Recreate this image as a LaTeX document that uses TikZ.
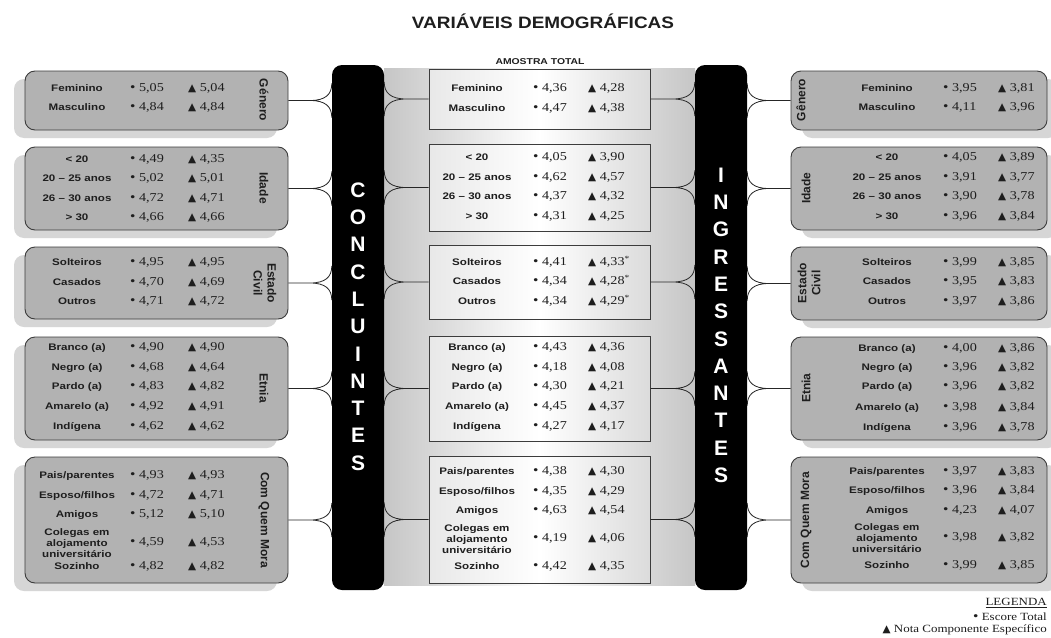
\documentclass[tikz,border=0pt]{standalone}
\usepackage{fontspec}
\setmainfont{Liberation Serif}
\newfontfamily\labfont{Liberation Sans}[FakeStretch=1.22]
\newfontfamily\numfont{Liberation Serif}[FakeStretch=1.18]
\newfontfamily\rotfont{Liberation Sans}
\newfontfamily\titfont{Liberation Sans}[FakeStretch=1.15]
\newfontfamily\symfont{DejaVu Sans}
\usetikzlibrary{calc,shadows}
\definecolor{boxgray}{RGB}{178,178,178}
\definecolor{shgray}{RGB}{214,214,214}
\definecolor{bord}{RGB}{60,60,60}
\definecolor{txt}{RGB}{30,30,30}
\newcommand\tri{{\symfont\fontsize{10.5}{10.5}\selectfont ▲}}
\newcommand\bul{{\fontsize{13}{13}\selectfont\textbullet}}
\tikzset{
  conn/.style={draw=black!85, line width=0.8pt},
  lab/.style={font=\labfont\bfseries\fontsize{9.5}{11}\selectfont, text=txt, inner sep=0, text height=7pt, text depth=2pt},
  labthree/.style={font=\labfont\bfseries\fontsize{9.5}{11}\selectfont, text=txt, inner sep=0, align=center},
  num/.style={font=\numfont\fontsize{12}{12}\selectfont, text=txt, inner sep=0, anchor=west, text height=7pt, text depth=2pt},
  rotlab/.style={font=\rotfont\bfseries\fontsize{12}{14}\selectfont, text=txt, inner sep=0, align=center},
  sideL/.style={draw=bord, line width=0.9pt, fill=boxgray, rounded corners=10pt, minimum width=263pt, inner sep=0,
    drop shadow={shadow xshift=-11pt, shadow yshift=-8pt, fill=shgray, opacity=1}},
  sideR/.style={draw=bord, line width=0.9pt, fill=boxgray, rounded corners=10pt, minimum width=256pt, inner sep=0,
    drop shadow={shadow xshift=11pt, shadow yshift=-8pt, fill=shgray, opacity=1}},
  midbox/.style={draw=bord, line width=1pt, left color=gray!18, right color=gray!28, middle color=white, minimum width=221pt, inner sep=0},
  bar/.style={fill=black, rounded corners=10pt, minimum width=52pt, minimum height=525pt, inner sep=0},
  barlet/.style={text=white, font=\rotfont\bfseries\fontsize{21}{21}\selectfont, inner sep=0},
  legend/.style={font=\numfont\fontsize{11}{12}\selectfont, text=txt, inner sep=0, anchor=east}
}
% generic row: x-label, x-a, x-b, name, y, label, a, b
\newcommand\ent[8]{%
  \node[lab] (#4l) at (#1,#5) {#6};
  \node[num] (#4a) at (#2,#5) {\bul\ #7};
  \node[num] (#4b) at (#3,#5) {\tri\ #8};
}
\newcommand\entL[5]{\ent{77}{130}{188}{#1}{#2}{#3}{#4}{#5}}
\newcommand\entC[5]{\ent{477}{533}{588}{#1}{#2}{#3}{#4}{#5}}
\newcommand\entR[5]{\ent{887}{943}{998}{#1}{#2}{#3}{#4}{#5}}
% three-line entry
\newcommand\entT[7]{%
  \node[labthree] (#4l) at (#1,#5) {Colegas em\\alojamento\\universitário};
  \node[num] (#4a) at (#2,#5) {\bul\ #6};
  \node[num] (#4b) at (#3,#5) {\tri\ #7};
}
% brace connector: box anchor, bar anchor
\newcommand\brc[2]{%
  \path (#1) coordinate (bs) (#2|-#1) coordinate (be);
  \path ($(bs)!0.5!(be)$) coordinate (bj);
  \draw[conn] (bs) -- (bj)
     .. controls ($(bj)!0.7!(be)$) and ($(be)+(0,-6)$) .. ($(be)+(0,-17)$)
     (bj) .. controls ($(bj)!0.7!(be)$) and ($(be)+(0,6)$) .. ($(be)+(0,17)$);
}
\begin{document}
\begin{tikzpicture}[x=1pt,y=-1pt]
\useasboundingbox (0,0) rectangle (1051,637);
\fill[white] (0,0) rectangle (1051,637);

% title
\node[font=\titfont\bfseries\fontsize{16.5}{18}\selectfont, text=txt, inner sep=0] (title) at (543,21) {VARIÁVEIS DEMOGRÁFICAS};

% central gradient
\shade[left color=gray!45, right color=gray!45, middle color=white] (384,68) rectangle (695,585);

\node[font=\labfont\bfseries\fontsize{8.5}{9}\selectfont, text=txt, inner sep=0] (amostra) at (540,62) {AMOSTRA TOTAL};

% center boxes
\node[midbox, minimum height=60pt]  (Cg) at (539.5,99) {};
\node[midbox, minimum height=87pt]  (Ci) at (539.5,187.5) {};
\node[midbox, minimum height=74pt]  (Ce) at (539.5,282) {};
\node[midbox, minimum height=105pt] (Ct) at (539.5,388.5) {};
\node[midbox, minimum height=127pt] (Cc) at (539.5,519.5) {};

% left boxes
\node[sideL, minimum height=59pt]  (Lg) at (156.5,100.5) {};
\node[sideL, minimum height=83pt]  (Li) at (156.5,188.5) {};
\node[sideL, minimum height=72pt]  (Le) at (156.5,283) {};
\node[sideL, minimum height=103pt] (Lt) at (156.5,388.5) {};
\node[sideL, minimum height=126pt] (Lc) at (156.5,520) {};

% right boxes
\node[sideR, minimum height=59pt]  (Rg) at (919,100.5) {};
\node[sideR, minimum height=83pt]  (Ri) at (919,188.5) {};
\node[sideR, minimum height=73pt]  (Re) at (919,283.5) {};
\node[sideR, minimum height=103pt] (Rt) at (919,388.5) {};
\node[sideR, minimum height=126pt] (Rc) at (919,520) {};

% bars
\node[bar] (barL) at (358,327.5) {};
\node[bar] (barR) at (721,327.5) {};
\foreach \ch [count=\i] in {C,O,N,C,L,U,I,N,T,E,S}
  \node[barlet] (cl\i) at (358,{190+27.3*(\i-1)}) {\ch};
\foreach \ch [count=\i] in {I,N,G,R,E,S,S,A,N,T,E,S}
  \node[barlet] (in\i) at (721,{175+27.3*(\i-1)}) {\ch};

% connectors
\foreach \b in {g,i,e,t,c}{
  \brc{L\b.east}{barL.west}
  \brc{C\b.west}{barL.east}
  \brc{C\b.east}{barR.west}
  \brc{R\b.west}{barR.east}
}

% rotated category labels
\node[rotlab, rotate=-90] (lgl) at (264,100) {Género};
\node[rotlab, rotate=-90] (lil) at (264,188) {Idade};
\node[rotlab, rotate=-90] (lel) at (265,283) {Estado\\Civil};
\node[rotlab, rotate=-90] (ltl) at (264,388) {Etnia};
\node[rotlab, rotate=-90] (lcl) at (264,520) {Com Quem Mora};
\node[rotlab, rotate=90] (rgl) at (801,100) {Gênero};
\node[rotlab, rotate=90] (ril) at (806,188) {Idade};
\node[rotlab, rotate=90] (rel) at (809,283) {Estado\\Civil};
\node[rotlab, rotate=90] (rtl) at (806,388) {Etnia};
\node[rotlab, rotate=90] (rcl) at (806,520) {Com Quem Mora};

% left entries
\entL{L1}{89}{Feminino}{5,05}{5,04}
\entL{L2}{108}{Masculino}{4,84}{4,84}
\entL{L3}{160}{< 20}{4,49}{4,35}
\entL{L4}{179}{20 – 25 anos}{5,02}{5,01}
\entL{L5}{199}{26 – 30 anos}{4,72}{4,71}
\entL{L6}{218}{> 30}{4,66}{4,66}
\entL{L7}{263}{Solteiros}{4,95}{4,95}
\entL{L8}{283}{Casados}{4,70}{4,69}
\entL{L9}{302}{Outros}{4,71}{4,72}
\entL{L10}{348}{Branco (a)}{4,90}{4,90}
\entL{L11}{368}{Negro (a)}{4,68}{4,64}
\entL{L12}{387}{Pardo (a)}{4,83}{4,82}
\entL{L13}{407}{Amarelo (a)}{4,92}{4,91}
\entL{L14}{427}{Indígena}{4,62}{4,62}
\entL{L15}{476}{Pais/parentes}{4,93}{4,93}
\entL{L16}{496}{Esposo/filhos}{4,72}{4,71}
\entL{L17}{515}{Amigos}{5,12}{5,10}
\entT{77}{130}{188}{L18}{543}{4,59}{4,53}
\entL{L19}{567}{Sozinho}{4,82}{4,82}

% center entries
\entC{C1}{89}{Feminino}{4,36}{4,28}
\entC{C2}{109}{Masculino}{4,47}{4,38}
\entC{C3}{158}{< 20}{4,05}{3,90}
\entC{C4}{178}{20 – 25 anos}{4,62}{4,57}
\entC{C5}{197}{26 – 30 anos}{4,37}{4,32}
\entC{C6}{217}{> 30}{4,31}{4,25}
\entC{C7}{263}{Solteiros}{4,41}{4,33\textsuperscript{*}}
\entC{C8}{282}{Casados}{4,34}{4,28\textsuperscript{*}}
\entC{C9}{302}{Outros}{4,34}{4,29\textsuperscript{*}}
\entC{C10}{348}{Branco (a)}{4,43}{4,36}
\entC{C11}{368}{Negro (a)}{4,18}{4,08}
\entC{C12}{387}{Pardo (a)}{4,30}{4,21}
\entC{C13}{407}{Amarelo (a)}{4,45}{4,37}
\entC{C14}{427}{Indígena}{4,27}{4,17}
\entC{C15}{472}{Pais/parentes}{4,38}{4,30}
\entC{C16}{492}{Esposo/filhos}{4,35}{4,29}
\entC{C17}{511}{Amigos}{4,63}{4,54}
\entT{477}{533}{588}{C18}{539}{4,19}{4,06}
\entC{C19}{567}{Sozinho}{4,42}{4,35}

% right entries
\entR{R1}{89}{Feminino}{3,95}{3,81}
\entR{R2}{108}{Masculino}{4,11}{3,96}
\entR{R3}{158}{< 20}{4,05}{3,89}
\entR{R4}{178}{20 – 25 anos}{3,91}{3,77}
\entR{R5}{197}{26 – 30 anos}{3,90}{3,78}
\entR{R6}{217}{> 30}{3,96}{3,84}
\entR{R7}{263}{Solteiros}{3,99}{3,85}
\entR{R8}{282}{Casados}{3,95}{3,83}
\entR{R9}{302}{Outros}{3,97}{3,86}
\entR{R10}{349}{Branco (a)}{4,00}{3,86}
\entR{R11}{368}{Negro (a)}{3,96}{3,82}
\entR{R12}{387}{Pardo (a)}{3,96}{3,82}
\entR{R13}{408}{Amarelo (a)}{3,98}{3,84}
\entR{R14}{428}{Indígena}{3,96}{3,78}
\entR{R15}{472}{Pais/parentes}{3,97}{3,83}
\entR{R16}{491}{Esposo/filhos}{3,96}{3,84}
\entR{R17}{511}{Amigos}{4,23}{4,07}
\entT{887}{943}{998}{R18}{538}{3,98}{3,82}
\entR{R19}{566}{Sozinho}{3,99}{3,85}

% legend
\node[legend] (lg1) at (1047,603) {\underline{LEGENDA}};
\node[legend] (lg2) at (1047,617) {\bul\ Escore Total};
\node[legend] (lg3) at (1047,630) {\tri\ Nota Componente Específico};
\end{tikzpicture}
\end{document}
